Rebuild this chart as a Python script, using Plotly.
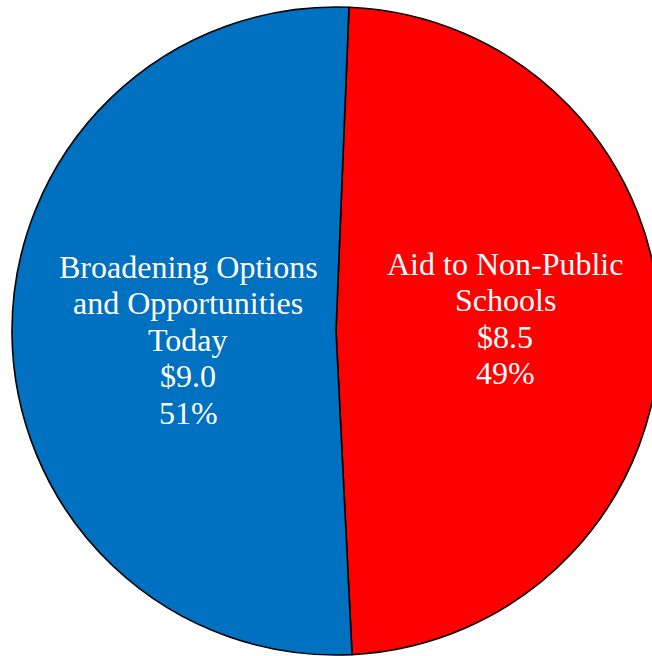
import plotly.graph_objects as go

# ---- data ----
labels = ["Aid to Non-Public Schools", "Broadening Options and Opportunities Today"]
label_lines = [["Aid to Non-Public", "Schools"], ["Broadening Options", "and Opportunities", "Today"]]
values = [8.5, 9.0]
value_text = ["$8.5", "$9.0"]
pct_text = ["49%", "51%"]
colors = ["#FF0000", "#0070C0"]

W, H = 672, 662
FONT = "Liberation Serif, Times New Roman, serif"
FS = 32
PITCH = 36.4

fig = go.Figure(go.Pie(
    labels=labels,
    values=values,
    sort=False,
    direction="clockwise",
    rotation=2.3,
    marker=dict(colors=colors, line=dict(color="black", width=1.6)),
    textinfo="none",
    hoverinfo="label+value+percent",
    domain=dict(x=[12 / W, 660 / W], y=[1 - 655 / H, 1 - 7 / H]),
    showlegend=False,
))

# label blocks: (center x px, first-line visual middle px)
anchors = [(505, 264), (188, 267)]
annotations = []
for i in range(len(labels)):
    lines = label_lines[i] + [value_text[i], pct_text[i]]
    cx, y0 = anchors[i]
    for j, line in enumerate(lines):
        annotations.append(dict(
            x=cx / W, y=1 - (y0 + j * PITCH) / H, xref="paper", yref="paper",
            text=line, showarrow=False, xanchor="center", yanchor="middle",
            font=dict(family=FONT, size=FS, color="white"),
        ))

fig.update_layout(
    width=W, height=H,
    margin=dict(l=0, r=0, t=0, b=0),
    paper_bgcolor="white",
    plot_bgcolor="white",
    annotations=annotations,
)

fig.write_html(
    "out.html",
    config={"displayModeBar": False},
    post_script="document.body.style.margin='0';document.body.style.overflow='hidden';",
)
